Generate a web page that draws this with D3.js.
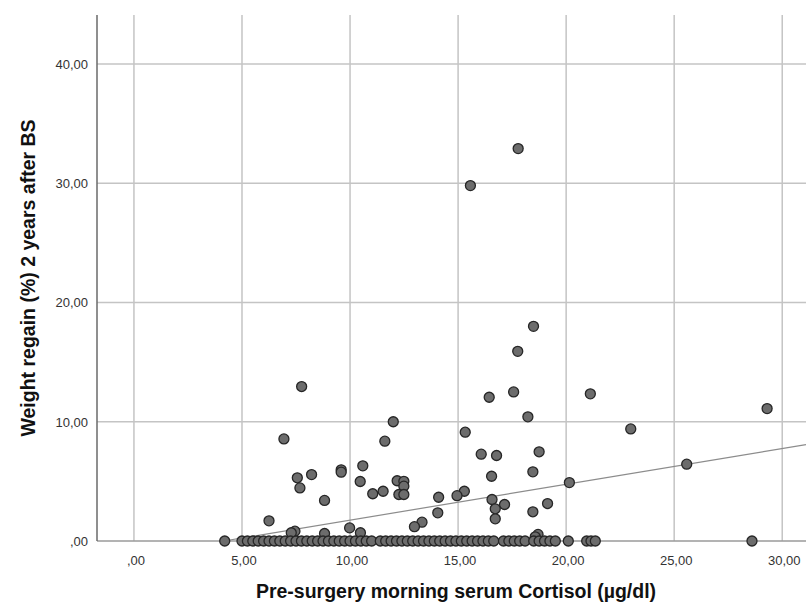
<!DOCTYPE html>
<html>
<head>
<meta charset="utf-8">
<script src="https://cdn.jsdelivr.net/npm/d3@7"></script>
<style>
  body { margin: 0; background: #fff; }
  .tick-label { font-family: "Liberation Sans Narrow", "Arial Narrow", "Liberation Sans", sans-serif; font-size: 13px; fill: #333; }
  .axis-title { font-family: "Liberation Sans", Arial, sans-serif; font-size: 19.5px; font-weight: bold; fill: #111; }
</style>
</head>
<body>
<div id="chart"></div>
<script>
// cortisol (x) and weight regain (y) - points above zero
var cortisolHigh = [17.78, 15.57, 18.49, 17.76, 7.76, 17.57, 21.12, 16.44, 29.3, 18.23, 12.0, 22.99,
  15.33, 6.94, 11.61, 18.75, 16.07, 16.78, 10.59, 25.58, 9.59, 9.59, 18.46, 8.22, 16.55, 7.56,
  12.18, 10.47, 12.49, 20.15, 12.49, 7.68, 11.53, 15.29, 12.26, 12.49, 11.05, 14.95, 14.1, 16.57,
  8.82, 19.14, 17.15, 16.72, 18.46, 14.06, 16.72, 6.25, 13.33, 12.98, 9.98, 7.45, 7.28, 10.48,
  8.82, 18.7, 18.57];
var regainHigh = [32.9, 29.8, 18.0, 15.9, 12.95, 12.5, 12.34, 12.05, 11.1, 10.41, 10.0, 9.4,
  9.12, 8.56, 8.37, 7.48, 7.28, 7.17, 6.3, 6.44, 5.97, 5.77, 5.8, 5.57, 5.43, 5.3,
  5.05, 4.99, 5.0, 4.9, 4.6, 4.45, 4.17, 4.17, 3.9, 3.9, 3.96, 3.8, 3.67, 3.48,
  3.4, 3.14, 3.06, 2.7, 2.45, 2.36, 1.86, 1.69, 1.58, 1.2, 1.1, 0.82, 0.69, 0.69,
  0.63, 0.55, 0.35];
// cortisol values of patients with no regain (y = 0)
var cortisolZero = [4.2, 5.0, 5.25, 5.5, 5.75, 6.0, 6.25, 6.5, 6.75, 7.0, 7.25, 7.5, 7.75, 8.0,
  8.25, 8.5, 8.75, 9.0, 9.25, 9.5, 9.75, 10.0, 10.25, 10.5, 10.75, 11.0, 11.4, 11.65, 11.9,
  12.15, 12.4, 12.65, 12.9, 13.15, 13.4, 13.65, 13.9, 14.15, 14.4, 14.65, 14.9, 15.15, 15.4,
  15.65, 15.9, 16.15, 16.4, 16.65, 17.1, 17.35, 17.6, 17.85, 18.1, 18.5, 18.75, 19.0, 19.25,
  19.5, 20.1, 20.95, 21.15, 21.35, 28.6];

var xTicks = [0, 5, 10, 15, 20, 25, 30];
var yTicks = [0, 10, 20, 30, 40];
// fit line (intercept, slope)
var fitLine = [-1.25, 0.3];
var fitStart = 4.16;

var data = [];
for (var i = 0; i < cortisolHigh.length; i++) data.push({x: cortisolHigh[i], y: regainHigh[i]});
for (var j = 0; j < cortisolZero.length; j++) data.push({x: cortisolZero[j], y: 0});

var W = 806, H = 605;
var margin = {top: 15, right: 0, bottom: 64, left: 97};
var width = W - margin.left - margin.right;
var height = H - margin.top - margin.bottom;

var svg = d3.select("#chart").append("svg")
  .attr("width", W)
  .attr("height", H);

var g = svg.append("g")
  .attr("transform", "translate(" + margin.left + "," + margin.top + ")");

var xScale = d3.scaleLinear().domain([-1.71, 31.1]).range([0, width]);
var yScale = d3.scaleLinear().domain([0, 44.1]).range([height, 0]);

var fmt = function(v) { return v === 0 ? ",00" : (v.toFixed(2)).replace(".", ","); };

//gridlines
g.selectAll(".vgrid").data(xTicks).enter().append("line")
  .attr("class", "vgrid")
  .attr("x1", d => xScale(d)).attr("x2", d => xScale(d))
  .attr("y1", 0).attr("y2", height)
  .attr("stroke", "#c4c4c4").attr("stroke-width", 1.5);

g.selectAll(".hgrid").data(yTicks.slice(1)).enter().append("line")
  .attr("class", "hgrid")
  .attr("x1", 0).attr("x2", width)
  .attr("y1", d => yScale(d)).attr("y2", d => yScale(d))
  .attr("stroke", "#c4c4c4").attr("stroke-width", 1.5);

//axes
g.append("line")
  .attr("x1", 0).attr("x2", width)
  .attr("y1", height).attr("y2", height)
  .attr("stroke", "#9a9a9a").attr("stroke-width", 1.5);

g.append("line")
  .attr("x1", 0).attr("x2", 0)
  .attr("y1", 0).attr("y2", height)
  .attr("stroke", "#6a6a6a").attr("stroke-width", 1.5);

g.selectAll(".xlab").data(xTicks).enter().append("text")
  .attr("class", "tick-label")
  .attr("x", d => xScale(d) + 2)
  .attr("y", height + 24)
  .attr("text-anchor", "middle")
  .text(fmt);

g.selectAll(".ylab").data(yTicks).enter().append("text")
  .attr("class", "tick-label")
  .attr("x", -9)
  .attr("y", d => yScale(d) + 5)
  .attr("text-anchor", "end")
  .text(fmt);

//fit line
var x0 = fitStart, x1 = xScale.domain()[1];
g.append("line")
  .attr("x1", xScale(x0)).attr("y1", yScale(fitLine[0] + fitLine[1] * x0))
  .attr("x2", xScale(x1)).attr("y2", yScale(fitLine[0] + fitLine[1] * x1))
  .attr("stroke", "#8c8c8c").attr("stroke-width", 1.2);

//points
g.append("g").selectAll("circle").data(data).enter().append("circle")
  .attr("cx", d => xScale(d.x))
  .attr("cy", d => yScale(d.y))
  .attr("r", 5)
  .attr("fill", "#6c6c6c")
  .attr("stroke", "#262626")
  .attr("stroke-width", 1.3);

//titles
svg.append("text")
  .attr("class", "axis-title")
  .attr("x", 456)
  .attr("y", 598)
  .attr("text-anchor", "middle")
  .text("Pre-surgery morning serum Cortisol (µg/dl)");

svg.append("text")
  .attr("class", "axis-title")
  .attr("transform", "translate(35,278) rotate(-90)")
  .attr("text-anchor", "middle")
  .text("Weight regain (%) 2 years after BS");
</script>
</body>
</html>
